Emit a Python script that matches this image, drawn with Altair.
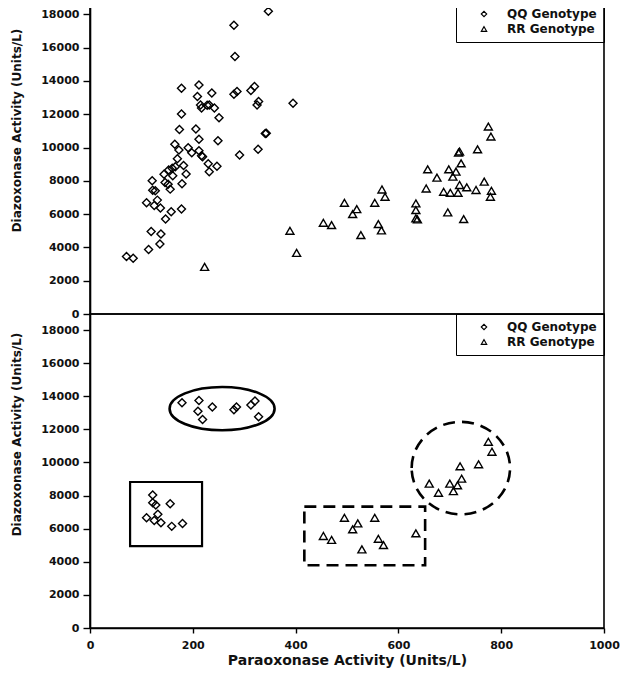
import altair as alt
import pandas as pd

# ---------------- data ----------------
genotypes = ["QQ Genotype", "RR Genotype"]
x_ticks = [0, 200, 400, 600, 800, 1000]
y_ticks = [0, 2000, 4000, 6000, 8000, 10000, 12000, 14000, 16000, 18000]

# top panel: all subjects
qq_x = [71, 84, 114, 119, 138, 136, 147, 158, 178, 110, 125, 131, 137, 121, 122, 127,
        144, 146, 152, 156, 153, 160, 166, 161, 170, 165, 173, 174, 178, 178, 179, 182,
        187, 191, 198, 206, 212, 212, 217, 219, 230, 232, 247, 249, 251, 209, 212, 215,
        217, 228, 232, 237, 242, 280, 286, 280, 282, 291, 313, 320, 325, 328, 327, 341,
        343, 347, 395]
qq_y = [3450, 3350, 3870, 4960, 4800, 4200, 5700, 6140, 6300, 6680, 6520, 6840, 6360,
        8000, 7430, 7400, 8390, 7900, 7800, 7500, 8650, 8750, 8850, 8300, 9320, 10190,
        9850, 11080, 12010, 13560, 7820, 8920, 8410, 9990, 9680, 11110, 10500, 9800,
        9510, 9450, 9030, 8550, 8870, 10400, 11790, 13060, 13750, 12560, 12380, 12540,
        12560, 13280, 12380, 13200, 13360, 17340, 15470, 9550, 13420, 13670, 12560,
        12760, 9890, 10840, 10860, 18180, 12660]
rr_x = [223, 389, 402, 454, 470, 495, 511, 519, 527, 554, 561, 567, 568, 574, 634, 634,
        634, 637, 654, 657, 675, 688, 696, 698, 701, 706, 712, 716, 717, 719, 719, 722,
        727, 733, 751, 754, 767, 775, 780, 781, 779]
rr_y = [2830, 5000, 3670, 5480, 5340, 6680, 6000, 6300, 4740, 6680, 5400, 5020, 7480,
        7040, 6640, 6240, 5740, 5680, 7540, 8690, 8190, 7340, 6100, 8690, 7280, 8250,
        8550, 7280, 9690, 9760, 7750, 9050, 5700, 7610, 7450, 9890, 7950, 11260, 10660,
        7400, 7040]

# bottom panel: selected subgroups
qq_sel_x = [179, 212, 210, 219, 238, 280, 285, 313, 321, 328,
            122, 122, 128, 110, 132, 125, 138, 156, 159, 180]
qq_sel_y = [13610, 13750, 13090, 12600, 13350, 13190, 13350, 13470, 13710, 12760,
            8030, 7570, 7430, 6660, 6870, 6500, 6360, 7510, 6140, 6320]
rr_sel_x = [454, 470, 495, 511, 521, 529, 554, 561, 571, 634,
            775, 782, 756, 720, 723, 700, 715, 707, 660, 678]
rr_sel_y = [5560, 5320, 6660, 5960, 6320, 4750, 6660, 5390, 5010, 5720,
            11250, 10650, 9890, 9770, 9020, 8720, 8620, 8270, 8720, 8170]

# annotation regions (data units)
solid_box = {"x": [78], "x2": [218], "y": [4950], "y2": [8820]}
dashed_box = {"x": [417], "x2": [652], "y": [3790], "y2": [7330]}
ellipse_center = {"x": [257], "y": [13250]}
circle_center = {"x": [721.5], "y": [9660]}

# ---------------- chart ----------------
FONT = "DejaVu Sans"
ELLIPSE = ("M-1,0C-1,-0.2275,-0.5523,-0.412,0,-0.412C0.5523,-0.412,1,-0.2275,1,0"
           "C1,0.2275,0.5523,0.412,0,0.412C-0.5523,0.412,-1,0.2275,-1,0Z")
CIRCLE = ("M-1,0C-1,-0.519,-0.5523,-0.94,0,-0.94C0.5523,-0.94,1,-0.519,1,0"
          "C1,0.519,0.5523,0.94,0,0.94C-0.5523,0.94,-1,0.519,-1,0Z")


def frame(xs_qq, ys_qq, xs_rr, ys_rr):
    return pd.DataFrame({
        "x": xs_qq + xs_rr,
        "y": ys_qq + ys_rr,
        "g": [genotypes[0]] * len(xs_qq) + [genotypes[1]] * len(xs_rr),
    })


def y_axis(title_y):
    return alt.Axis(values=y_ticks, format="d", grid=False, tickSize=7, labelPadding=4,
                    labelOverlap=False, labelBound=False, labelFlush=False,
                    title="Diazoxonase Activity (Units/L)", titleX=-74, titleY=title_y,
                    titleAlign="center", titleBaseline="middle", titleAngle=-90)


x_axis = alt.Axis(values=x_ticks, format="d", grid=False, tickSize=5, labelPadding=6,
                  labelOverlap=False, labelFlush=False,
                  title="Paraoxonase Activity (Units/L)", titleFontSize=14, titlePadding=3)

legend = alt.Legend(title=None, orient="top-right", offset=0, strokeColor="black",
                    padding=7, symbolSize=30, symbolOffset=15, labelOffset=17,
                    rowPadding=3, symbolStrokeWidth=1.1, symbolStrokeColor="black",
                    labelFont=FONT, labelFontWeight="bold", labelFontSize=12,
                    labelColor="#111")

shape_scale = alt.Scale(domain=genotypes, range=["diamond", "triangle-up"])
x_scale = alt.Scale(domain=[0, 1000], nice=False)


def xy(ydom, axis_x, title_y):
    return dict(
        x=alt.X("x:Q", scale=x_scale, axis=axis_x),
        y=alt.Y("y:Q", scale=alt.Scale(domain=[0, ydom], nice=False), axis=y_axis(title_y)),
    )


def scatter(df, ydom, axis_x, title_y):
    return alt.Chart(df).mark_point(filled=False, color="black", size=64,
                                    strokeWidth=1.4, opacity=1).encode(
        shape=alt.Shape("g:N", scale=shape_scale, legend=legend),
        **xy(ydom, axis_x, title_y),
    )


TOP_DOM, BOT_DOM = 18800, 18970
top = scatter(frame(qq_x, qq_y, rr_x, rr_y), TOP_DOM, None, 129).properties(
    width=514, height=313)

enc_b = xy(BOT_DOM, x_axis, 120)
pts_bottom = scatter(frame(qq_sel_x, qq_sel_y, rr_sel_x, rr_sel_y), BOT_DOM, x_axis, 120)

box1 = alt.Chart(pd.DataFrame(solid_box)).mark_rect(
    fillOpacity=0, stroke="black", strokeWidth=2.2).encode(x2="x2", y2="y2", **enc_b)
box2 = alt.Chart(pd.DataFrame(dashed_box)).mark_rect(
    fillOpacity=0, stroke="black", strokeWidth=2.6, strokeDash=[12, 7]).encode(
    x2="x2", y2="y2", **enc_b)
ell = alt.Chart(pd.DataFrame(ellipse_center)).mark_point(
    shape=ELLIPSE, size=11025, filled=False, color="black", strokeWidth=2.6, opacity=1
).encode(**enc_b)
circ = alt.Chart(pd.DataFrame(circle_center)).mark_point(
    shape=CIRCLE, size=9683, filled=False, color="black", strokeWidth=2.6, opacity=1,
    strokeDash=[12, 7]
).encode(**enc_b)

bottom = alt.layer(box1, box2, ell, circ, pts_bottom).properties(width=514, height=314)

chart = alt.vconcat(top, bottom, spacing=0, bounds="flush").resolve_scale(
    shape="independent").resolve_legend(shape="independent").properties(
    padding={"left": 1, "top": -9, "right": 4, "bottom": 0},
    background="white",
).configure_view(stroke="black", strokeWidth=1.6).configure_axis(
    domainColor="black", domainWidth=1.6, tickColor="black", tickWidth=1.4,
    labelFont=FONT, labelFontWeight="bold", labelFontSize=11, labelColor="#111",
    titleFont=FONT, titleFontWeight="bold", titleFontSize=12, titleColor="#111",
)

chart.save("out.html", embed_options={"renderer": "svg", "actions": False})
